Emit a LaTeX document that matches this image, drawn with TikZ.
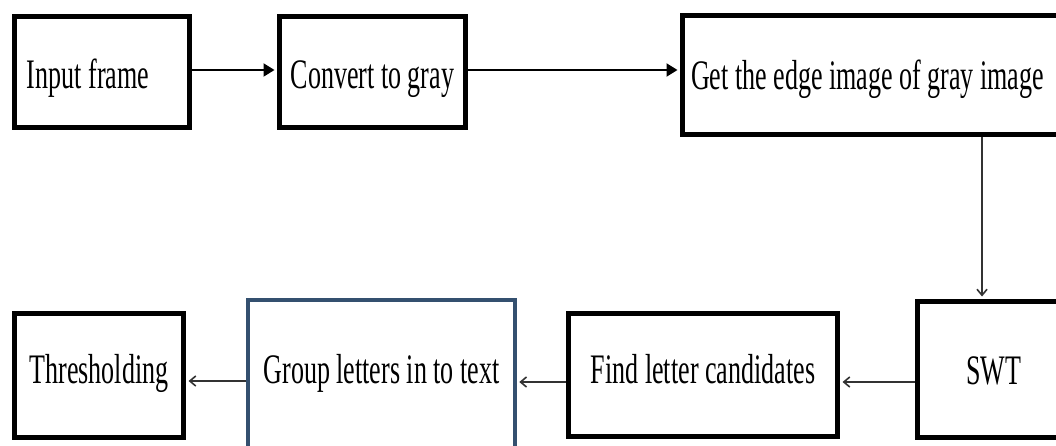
\documentclass[tikz,border=0pt]{standalone}
\usepackage{fontspec}
\newfontfamily\dfont[FakeStretch=0.62]{Liberation Serif}
\usetikzlibrary{arrows.meta}
\definecolor{boxblue}{HTML}{34506F}
\begin{document}
\begin{tikzpicture}[x=1pt,y=-1pt,
  box/.style={draw=black, line width=5pt, fill=white, inner sep=0pt,
    font=\dfont\fontsize{42}{46}\selectfont, text depth=9pt},
  bluebox/.style={box, draw=boxblue, line width=3.5pt},
  fat/.style={line width=2pt, -{Triangle[length=11pt,width=13pt]}, shorten >=2.5pt},
  thinarr/.style={line width=1.6pt, draw=black!80, -{Straight Barb[length=6pt,width=10pt]}, shorten >=2.5pt}]
\fill[white] (0,0) rectangle (1056,446);
\clip (0,0) rectangle (1056,446);
% top row
\node[box, minimum width=175pt, minimum height=111pt, text height=42pt] (in) at (102,72.5)
  {\makebox[150pt][l]{Input frame}};
\node[box, minimum width=186pt, minimum height=111pt, text height=42pt] (gray) at (372.5,72.5) {Convert to gray};
\node[box, minimum width=387.5pt, minimum height=119pt, text height=39pt] (edge) at (876.25,75)
  {\makebox[370.5pt][l]{Get the edge image of gray image}};
% bottom row
\node[box, minimum width=152.5pt, minimum height=136pt, text height=38pt] (swt) at (993.75,369.5) {SWT};
\node[box, minimum width=269pt, minimum height=123pt, text height=25pt] (find) at (703,375) {Find letter candidates};
\node[bluebox, minimum width=267pt, minimum height=152pt, text height=23pt] (grp) at (381.5,376) {Group letters in to text};
\node[box, minimum width=169pt, minimum height=124pt, text height=24pt] (thr) at (99,375.5) {Thresholding};
% connectors
\draw[fat] ([yshift=2.5pt]in.east) -- ([yshift=2.5pt]in.east -| gray.west);
\draw[fat] ([yshift=2.5pt]gray.east) -- ([yshift=2.5pt]gray.east -| edge.west);
\coordinate (vx) at (982,0);
\draw[thinarr] (edge.south -| vx) -- (swt.north -| vx);
\draw[thinarr] ([yshift=-12.5pt]swt.west) -- ([yshift=-12.5pt]swt.west -| find.east);
\draw[thinarr] ([yshift=-7pt]find.west) -- ([yshift=-7pt]find.west -| grp.east);
\draw[thinarr] ([yshift=-5pt]grp.west) -- ([yshift=-5pt]grp.west -| thr.east);
\end{tikzpicture}
\end{document}
